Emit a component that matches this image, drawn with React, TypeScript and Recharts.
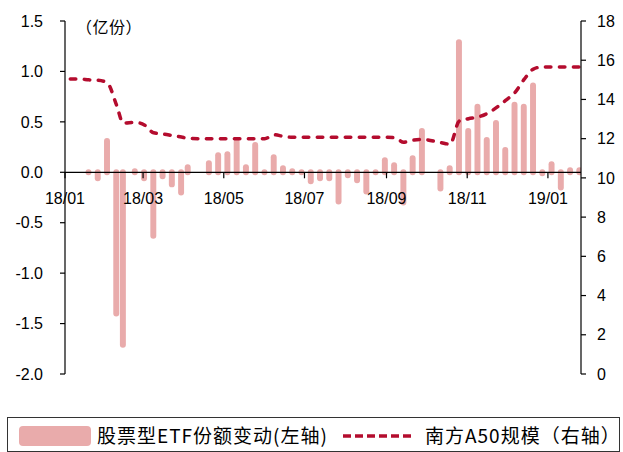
import React from "react";
import { ComposedChart, Bar, Line, XAxis, YAxis, ReferenceLine } from "recharts";

// weekly observation dates (last trading day of each week)
const weeks = [
  "2018-01-05", "2018-01-12", "2018-01-19", "2018-01-26", "2018-02-02", "2018-02-09", "2018-02-14", "2018-02-23",
  "2018-03-02", "2018-03-09", "2018-03-16", "2018-03-23", "2018-03-30", "2018-04-04", "2018-04-13", "2018-04-20",
  "2018-04-27", "2018-05-04", "2018-05-11", "2018-05-18", "2018-05-25", "2018-06-01", "2018-06-08", "2018-06-15",
  "2018-06-22", "2018-06-29", "2018-07-06", "2018-07-13", "2018-07-20", "2018-07-27", "2018-08-03", "2018-08-10",
  "2018-08-17", "2018-08-24", "2018-08-31", "2018-09-07", "2018-09-14", "2018-09-21", "2018-09-28", "2018-10-12",
  "2018-10-19", "2018-10-26", "2018-11-02", "2018-11-09", "2018-11-16", "2018-11-23", "2018-11-30", "2018-12-07",
  "2018-12-14", "2018-12-21", "2018-12-28", "2019-01-04", "2019-01-11", "2019-01-18", "2019-01-25",
];

// 股票型ETF份额变动, 亿份 (left axis)
const etfFlow: (number | null)[] = [
  null, null, 0.0, -0.06, 0.31, -1.4, -1.71, 0.01,
  -0.06, -0.63, -0.04, -0.12, -0.2, 0.05, null, 0.09,
  0.17, 0.18, 0.3, 0.05, 0.27, 0.0, 0.15, 0.04,
  0.01, 0.0, -0.09, -0.06, -0.06, -0.29, -0.03, -0.08,
  -0.19, 0.0, 0.12, 0.07, -0.3, 0.14, 0.41, -0.16,
  0.04, 1.29, 0.41, 0.65, 0.32, 0.49, 0.22, 0.67,
  0.65, 0.86, -0.01, 0.08, -0.15, 0.02, 0.02,
];

// 南方A50规模, 亿元 (right axis)
const a50Scale = [
  15.04, 15.04, 15.0, 14.98, 14.84, 13.7, 12.8, 12.83,
  12.7, 12.3, 12.24, 12.16, 12.08, 12.02, 12.0, 12.0,
  12.0, 12.0, 12.0, 12.0, 12.0, 12.0, 12.2, 12.12,
  12.07, 12.07, 12.07, 12.07, 12.07, 12.07, 12.07, 12.07,
  12.07, 12.07, 12.07, 12.05, 11.82, 11.92, 11.96, 11.8,
  11.72, 12.9, 13.02, 13.1, 13.28, 13.58, 13.95, 14.35,
  15.02, 15.55, 15.66, 15.66, 15.66, 15.65, 15.65,
];

const monthTickDates = ["2018-01-01", "2018-03-01", "2018-05-01", "2018-07-01", "2018-09-01", "2018-11-01", "2019-01-01"];
const monthLabels = ["18/01", "18/03", "18/05", "18/07", "18/09", "18/11", "19/01"];
const leftTicks = [-2, -1.5, -1, -0.5, 0, 0.5, 1, 1.5];
const rightTicks = [0, 2, 4, 6, 8, 10, 12, 14, 16, 18];

const flowName = "股票型ETF份额变动(左轴)";
const scaleName = "南方A50规模（右轴）";
const unitLabel = "（亿份）";

const PINK = "#E9ABAB";
const RED = "#B40C2E";
const AXIS_FONT = "'Liberation Sans', Arial, sans-serif";
const CJK_FONT = "'Noto Sans CJK SC', 'Noto Sans', sans-serif";

const W = 623;
const H = 452;
const MARGIN = { top: 21, right: 0, bottom: 48, left: 0 };
const X_AXIS_H = 30;
const LEFT_DOMAIN: [number, number] = [-2, 1.5];
const PLOT_H = H - MARGIN.top - MARGIN.bottom - X_AXIS_H;
// y position of the left axis zero, where the category axis sits
const ZERO_Y = MARGIN.top + (PLOT_H * LEFT_DOMAIN[1]) / (LEFT_DOMAIN[1] - LEFT_DOMAIN[0]);

const dayOf = (s: string) => {
  const [y, m, d] = s.split("-").map(Number);
  return (Date.UTC(y, m - 1, d) - Date.UTC(2018, 0, 1)) / 86400000;
};

const monthTicks = monthTickDates.map(dayOf);
const data = weeks.map((w, i) => ({ day: dayOf(w), flow: etfFlow[i], scale: a50Scale[i] }));

const PillBar = (props: any) => {
  const { x, y, width, height, fill, payload } = props;
  if (payload == null || payload.flow == null) return null;
  if (![x, y, width, height].every((v) => Number.isFinite(v))) return null;
  const top = Math.min(y, y + height);
  const bottom = Math.max(y, y + height);
  const r = width / 2;
  return <rect x={x} y={top - r} width={width} height={bottom - top + width} rx={r} ry={r} fill={fill} />;
};

const MonthTick = (props: any) => {
  const { x, payload } = props;
  const idx = monthTicks.indexOf(payload.value);
  return (
    <g>
      <line x1={x} x2={x} y1={ZERO_Y} y2={ZERO_Y + 6} stroke="#000" strokeWidth={1.2} />
      <text
        x={x}
        y={ZERO_Y + 26}
        textAnchor="middle"
        dominantBaseline="central"
        fontSize={16}
        fontFamily={AXIS_FONT}
        fill="#000"
      >
        {monthLabels[idx]}
      </text>
    </g>
  );
};

export default function App() {
  return (
    <div style={{ position: "relative", width: W, height: H, background: "#fff" }}>
      <style>{"body{margin:0}"}</style>
      <ComposedChart width={W} height={H} data={data} margin={MARGIN}>
        <XAxis
          dataKey="day"
          type="number"
          domain={[0, 390]}
          ticks={monthTicks}
          interval={0}
          height={X_AXIS_H}
          axisLine={false}
          tickLine={false}
          tick={<MonthTick />}
          allowDataOverflow
        />
        <YAxis
          yAxisId="left"
          domain={LEFT_DOMAIN}
          ticks={leftTicks}
          width={65}
          tickSize={5}
          tickMargin={17}
          interval={0}
          tickFormatter={(v: number) => v.toFixed(1)}
          axisLine={{ stroke: "#000", strokeWidth: 1.2 }}
          tickLine={{ stroke: "#000", strokeWidth: 1.2 }}
          tick={{ fill: "#000", fontSize: 16, fontFamily: AXIS_FONT }}
        />
        <YAxis
          yAxisId="right"
          orientation="right"
          domain={[0, 18]}
          ticks={rightTicks}
          width={42}
          tickSize={5}
          tickMargin={11}
          interval={0}
          axisLine={{ stroke: "#000", strokeWidth: 1.2 }}
          tickLine={{ stroke: "#000", strokeWidth: 1.2 }}
          tick={{ fill: "#000", fontSize: 16, fontFamily: AXIS_FONT, textAnchor: "start" }}
        />
        <Bar
          yAxisId="left"
          dataKey="flow"
          name={flowName}
          fill={PINK}
          barSize={7}
          shape={<PillBar />}
          isAnimationActive={false}
        />
        <ReferenceLine yAxisId="left" y={0} stroke="#000" strokeWidth={1.2} />
        <Line
          yAxisId="right"
          dataKey="scale"
          name={scaleName}
          type="monotone"
          stroke={RED}
          strokeWidth={3.5}
          strokeDasharray="5.5 8.5"
          strokeLinecap="round"
          dot={false}
          activeDot={false}
          isAnimationActive={false}
        />
      </ComposedChart>

      <div
        style={{
          position: "absolute",
          left: 76,
          top: 16,
          fontSize: 16,
          letterSpacing: 0.5,
          fontFamily: CJK_FONT,
          color: "#000",
          lineHeight: "20px",
        }}
      >
        {unitLabel}
      </div>

      <div
        style={{
          position: "absolute",
          left: 7,
          top: 417,
          width: 613,
          height: 35,
          boxSizing: "border-box",
          border: "1.3px solid #333",
          fontFamily: CJK_FONT,
          fontSize: 19,
          letterSpacing: 1,
          color: "#000",
        }}
      >
        <div
          style={{
            position: "absolute",
            left: 11,
            top: 8,
            width: 72,
            height: 20,
            borderRadius: 4,
            background: PINK,
          }}
        />
        <div style={{ position: "absolute", left: 89, top: 3, lineHeight: "28px", whiteSpace: "nowrap" }}>
          {flowName}
        </div>
        <svg style={{ position: "absolute", left: 334, top: 10 }} width={72} height={16}>
          <line x1={1} x2={70} y1={8} y2={8} stroke={RED} strokeWidth={3.5} strokeDasharray="8 4" />
        </svg>
        <div style={{ position: "absolute", left: 417, top: 3, lineHeight: "28px", whiteSpace: "nowrap" }}>
          {scaleName}
        </div>
      </div>
    </div>
  );
}
